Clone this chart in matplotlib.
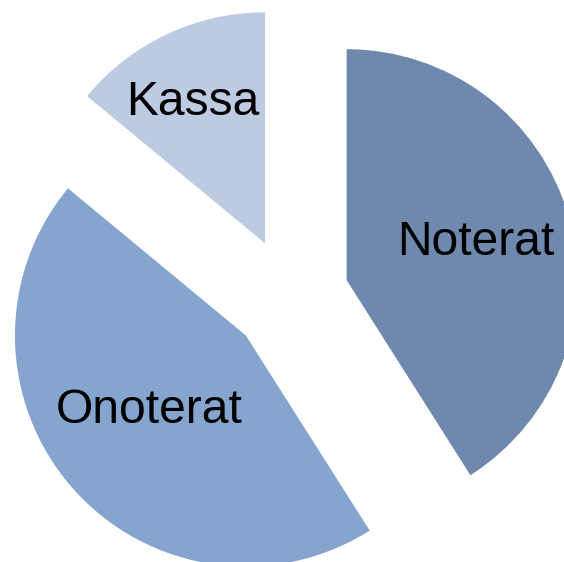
import numpy as np
import matplotlib.pyplot as plt

# --- Data ---
labels = ['Noterat', 'Onoterat', 'Kassa']
shares = [41, 45, 14]  # percent
colors = ['#6E89AD', '#85A5CE', '#BCCAE2']

# label placement inside each slice: (distance from slice apex, angle tweak in deg)
label_dist = [0.569, 0.5635, 0.637]
label_tweak = [-5.0, 0.8, 4.2]

fig = plt.figure(figsize=(5.64, 5.62), dpi=100)
ax = fig.add_axes([0, 0, 1, 1])

wedges, texts = ax.pie(shares, labels=labels, colors=colors,
                       explode=[0.255] * len(shares), startangle=90,
                       counterclock=False, radius=1,
                       wedgeprops=dict(linewidth=0),
                       textprops=dict(fontsize=34.6, family='Liberation Sans', color='black'))

for w, t, d, tw in zip(wedges, texts, label_dist, label_tweak):
    ang = np.deg2rad((w.theta1 + w.theta2) / 2 + tw)
    cx, cy = w.center
    t.set_position((cx + d * np.cos(ang), cy + d * np.sin(ang)))
    t.set_ha('center')
    t.set_va('baseline')

ax.set_xlim(-1.256, 1.186)
ax.set_ylim(-1.149, 1.284)
ax.set_aspect('equal')
ax.axis('off')

fig.savefig('out.png', dpi=100, facecolor='white')
